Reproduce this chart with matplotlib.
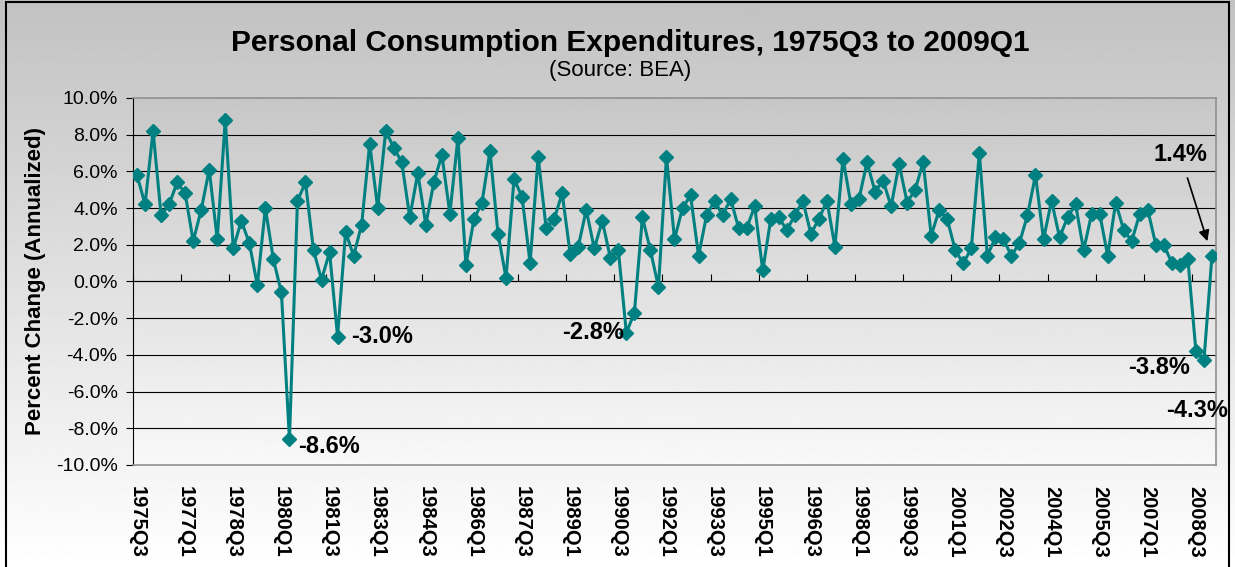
import numpy as np
import matplotlib
matplotlib.use("Agg")
import matplotlib.pyplot as plt
from matplotlib.patches import Rectangle

plt.rcParams["font.family"] = ["Liberation Sans", "DejaVu Sans"]

# quarterly PCE growth, 1975Q3 .. 2009Q1 (percent, annualized)
pce = [
    5.8, 4.2, 8.2, 3.6, 4.2, 5.4, 4.8, 2.2, 3.9, 6.1,
    2.3, 8.8, 1.8, 3.3, 2.1, -0.2, 4.0, 1.2, -0.6, -8.6,
    4.4, 5.4, 1.7, 0.1, 1.6, -3.0, 2.7, 1.4, 3.1, 7.5,
    4.0, 8.2, 7.3, 6.5, 3.5, 5.9, 3.1, 5.4, 6.9, 3.7,
    7.8, 0.9, 3.4, 4.3, 7.1, 2.6, 0.2, 5.6, 4.6, 1.0,
    6.8, 2.9, 3.4, 4.8, 1.5, 1.9, 3.9, 1.8, 3.3, 1.3,
    1.7, -2.8, -1.7, 3.5, 1.7, -0.3, 6.8, 2.3, 4.0, 4.7,
    1.4, 3.6, 4.4, 3.6, 4.5, 2.9, 2.9, 4.1, 0.6, 3.4,
    3.5, 2.8, 3.6, 4.4, 2.6, 3.4, 4.4, 1.9, 6.7, 4.2,
    4.5, 6.5, 4.9, 5.5, 4.1, 6.4, 4.3, 5.0, 6.5, 2.5,
    3.9, 3.4, 1.7, 1.0, 1.8, 7.0, 1.4, 2.4, 2.3, 1.4,
    2.1, 3.6, 5.8, 2.3, 4.4, 2.4, 3.5, 4.2, 1.7, 3.7,
    3.7, 1.4, 4.3, 2.8, 2.2, 3.7, 3.9, 2.0, 2.0, 1.0,
    0.9, 1.2, -3.8, -4.3, 1.4,
]


def quarter_labels(start_year, start_q, n):
    out = []
    y, q = start_year, start_q
    for _ in range(n):
        out.append(f"{y}Q{q}")
        q += 1
        if q > 4:
            q = 1
            y += 1
    return out


quarters = quarter_labels(1975, 3, len(pce))
x = np.arange(len(pce))
label_idx = x[::6]

fig = plt.figure(figsize=(12.35, 5.67), dpi=100)

# gray-to-white background of the whole chart
bg = fig.add_axes([0, 0, 1, 1], zorder=-5)
grad = np.linspace(0.76, 1.0, 256).reshape(-1, 1)
bg.imshow(grad, cmap="gray", vmin=0, vmax=1, aspect="auto", extent=[0, 1, 0, 1])
bg.set_axis_off()
fig.patches.append(Rectangle((0.005, -0.02), 0.99, 1.017, transform=fig.transFigure,
                             fill=False, edgecolor="black", lw=1.5))

ax = fig.add_axes([0.1077, 0.1799, 0.8769, 0.6473])
pgrad = np.linspace(0.78, 0.975, 256).reshape(-1, 1)
ax.imshow(pgrad, cmap="gray", vmin=0, vmax=1, aspect="auto",
          extent=[0, 1, 0, 1], transform=ax.transAxes, zorder=0)

for v in np.arange(-8, 10, 2):
    ax.axhline(v, color="black", lw=0.8, zorder=1)

ax.plot(x, pce, color="#008080", lw=2.2, marker="D", ms=7, zorder=3)

ax.set_xlim(-0.5, len(pce) - 0.5)
ax.set_ylim(-10, 10)
ax.set_yticks(np.arange(-10, 11, 2))
ax.yaxis.set_major_formatter(plt.FuncFormatter(lambda v, p: f"{v:.1f}%"))
ax.tick_params(axis="y", direction="out", length=5, labelsize=14, pad=6)

ax.set_xticks(label_idx)
ax.set_xticklabels([quarters[i] for i in label_idx], rotation=-90,
                   fontsize=14.5, fontweight="bold", va="top", ha="center")
ax.tick_params(axis="x", length=0, pad=15)

for s in ["top", "right", "bottom"]:
    ax.spines[s].set_color("#909090")
    ax.spines[s].set_linewidth(1.2)
ax.spines["left"].set_color("black")

# category axis crossing at 0 with tick marks between categories
sec = ax.secondary_xaxis(0.5)
sec.set_xticks(np.arange(-0.5, len(pce), 6))
sec.tick_params(axis="x", direction="out", length=5, labelbottom=False)
sec.set_xticklabels([])
sec.spines["bottom"].set_color("black")

ax.set_ylabel("Percent Change (Annualized)", fontsize=16, fontweight="bold", labelpad=7)

fig.text(0.51, 0.925, "Personal Consumption Expenditures, 1975Q3 to 2009Q1",
         ha="center", va="center", fontsize=21.5, fontweight="bold")
fig.text(0.502, 0.875, "(Source: BEA)", ha="center", va="center", fontsize=16)

bold = dict(fontsize=17, fontweight="bold", va="center")
ax.annotate("-8.6%", (19, pce[19]), xytext=(6.5, -5), textcoords="offset points", ha="left", **bold)
ax.annotate("-3.0%", (25, pce[25]), xytext=(9.5, 0), textcoords="offset points", ha="left", **bold)
ax.annotate("-2.8%", (61, pce[61]), xytext=(-2, 0), textcoords="offset points", ha="right", **bold)
ax.annotate("-3.8%", (132, pce[132]), xytext=(-4.5, -12), textcoords="offset points", ha="right", **bold)
ax.annotate("-4.3%", (133, pce[133]), xytext=(-5, -36), textcoords="offset points", ha="center", **bold)
ax.annotate("1.4%", (134, pce[134]), xytext=(-23, 73), textcoords="offset points", ha="center",
            arrowprops=dict(arrowstyle="-|>", color="black", lw=1.2, shrinkA=7, shrinkB=11,
                            mutation_scale=16), **bold)

fig.savefig("out.png", dpi=100)
